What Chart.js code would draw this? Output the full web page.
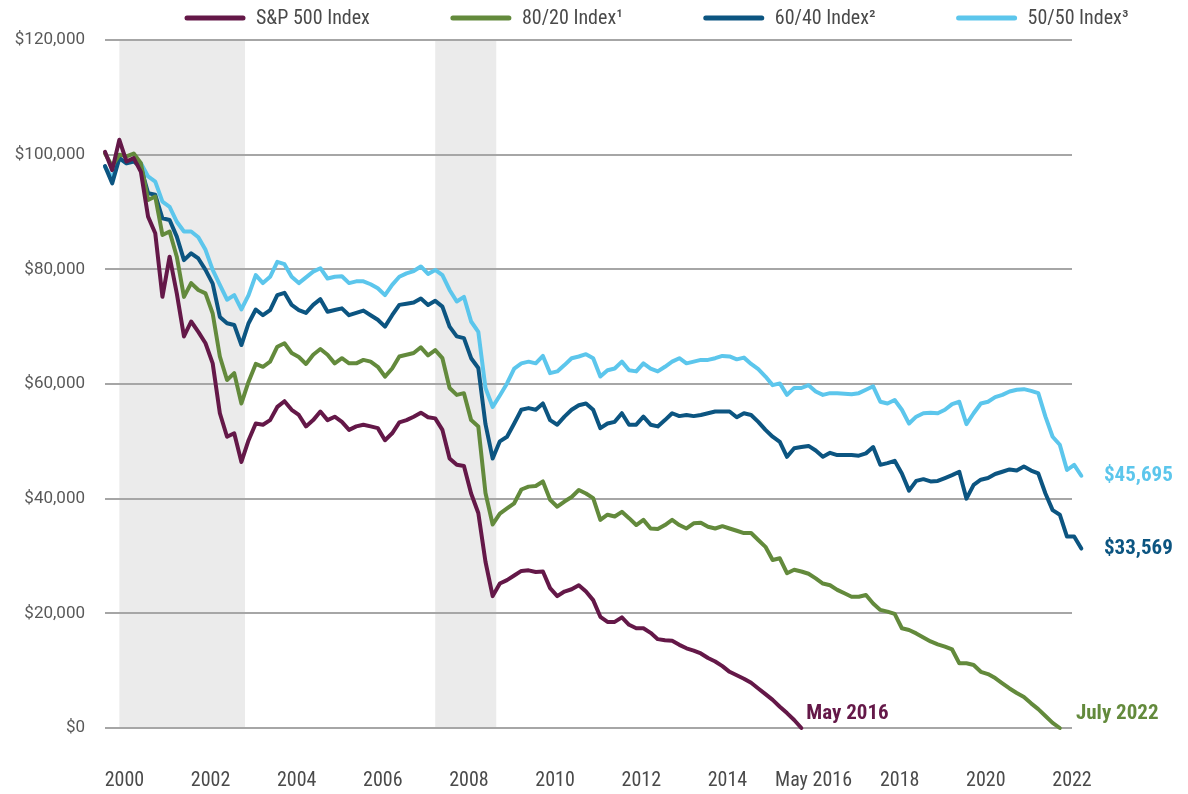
<!DOCTYPE html>
<html><head><meta charset="utf-8">
<script src="https://cdn.jsdelivr.net/npm/chart.js@4.4.1/dist/chart.umd.min.js"></script>
<style>html,body{margin:0;padding:0;background:#fff;}canvas{display:block;}</style>
</head><body>
<canvas id="c" width="1188" height="794"></canvas>
<script>
// Bi-monthly observation dates
const dates = [
"2000-01","2000-03","2000-05","2000-07","2000-09","2000-11",
"2001-01","2001-03","2001-05","2001-07","2001-09","2001-11",
"2002-01","2002-03","2002-05","2002-07","2002-09","2002-11",
"2003-01","2003-03","2003-05","2003-07","2003-09","2003-11",
"2004-01","2004-03","2004-05","2004-07","2004-09","2004-11",
"2005-01","2005-03","2005-05","2005-07","2005-09","2005-11",
"2006-01","2006-03","2006-05","2006-07","2006-09","2006-11",
"2007-01","2007-03","2007-05","2007-07","2007-09","2007-11",
"2008-01","2008-03","2008-05","2008-07","2008-09","2008-11",
"2009-01","2009-03","2009-05","2009-07","2009-09","2009-11",
"2010-01","2010-03","2010-05","2010-07","2010-09","2010-11",
"2011-01","2011-03","2011-05","2011-07","2011-09","2011-11",
"2012-01","2012-03","2012-05","2012-07","2012-09","2012-11",
"2013-01","2013-03","2013-05","2013-07","2013-09","2013-11",
"2014-01","2014-03","2014-05","2014-07","2014-09","2014-11",
"2015-01","2015-03","2015-05","2015-07","2015-09","2015-11",
"2016-01","2016-03","2016-05","2016-07","2016-09","2016-11",
"2017-01","2017-03","2017-05","2017-07","2017-09","2017-11",
"2018-01","2018-03","2018-05","2018-07","2018-09","2018-11",
"2019-01","2019-03","2019-05","2019-07","2019-09","2019-11",
"2020-01","2020-03","2020-05","2020-07","2020-09","2020-11",
"2021-01","2021-03","2021-05","2021-07","2021-09","2021-11",
"2022-01","2022-03","2022-05","2022-07","2022-09"
];

// Portfolio values, thousands of dollars
const sp500 = [
100.5, 97.3, 102.6, 98.8, 99.4, 97.0,
89.2, 86.3, 75.2, 82.2, 75.8, 68.3,
70.9, 69.1, 67.1, 63.6, 54.9, 50.8,
51.4, 46.4, 50.2, 53.1, 52.9, 53.7,
56.0, 57.0, 55.5, 54.6, 52.6, 53.7,
55.2, 53.7, 54.3, 53.4, 52.0, 52.6,
52.9, 52.6, 52.3, 50.2, 51.4, 53.3,
53.7, 54.3, 55.0, 54.2, 54.0, 52.0,
47.0, 45.9, 45.7, 40.9, 37.5, 29.0,
23.0, 25.2, 25.8, 26.6, 27.4, 27.5,
27.2, 27.3, 24.4, 23.0, 23.8, 24.2,
24.9, 23.8, 22.3, 19.4, 18.5, 18.5,
19.3, 18.0, 17.4, 17.4, 16.6, 15.5,
15.3, 15.2, 14.5, 13.9, 13.5, 13.0,
12.2, 11.6, 10.8, 9.8, 9.2, 8.6,
7.9, 6.9, 5.9, 4.9, 3.7, 2.6,
1.4, 0
];
const idx8020 = [
100.2, 98.0, 100.0, 99.7, 100.2, 98.5,
92.1, 92.7, 86.0, 86.6, 82.2, 75.2,
77.6, 76.4, 75.8, 72.3, 64.8, 60.7,
61.9, 56.6, 60.4, 63.5, 63.0, 63.9,
66.5, 67.1, 65.4, 64.7, 63.5, 65.1,
66.1, 65.1, 63.6, 64.5, 63.6, 63.6,
64.2, 63.9, 63.0, 61.3, 62.7, 64.8,
65.1, 65.4, 66.4, 65.0, 65.9, 64.5,
59.3, 58.1, 58.4, 53.7, 52.6, 41.0,
35.5, 37.4, 38.3, 39.2, 41.6, 42.1,
42.2, 43.0, 39.8, 38.6, 39.5, 40.3,
41.5, 40.9, 40.1, 36.3, 37.2, 36.9,
37.7, 36.6, 35.4, 36.3, 34.8, 34.7,
35.4, 36.3, 35.4, 34.8, 35.7, 35.8,
35.1, 34.8, 35.2, 34.8, 34.4, 34.0,
34.0, 32.8, 31.6, 29.3, 29.6, 27.0,
27.6, 27.3, 26.9, 26.1, 25.2, 24.9,
24.1, 23.5, 22.9, 22.9, 23.2, 21.7,
20.6, 20.3, 19.9, 17.4, 17.1, 16.5,
15.8, 15.1, 14.6, 14.2, 13.7, 11.3,
11.3, 11.0, 9.8, 9.4, 8.7, 7.8,
6.9, 6.1, 5.4, 4.3, 3.3, 2.1,
0.9, 0
];
const idx6040 = [
98.0, 95.0, 99.4, 98.5, 98.8, 97.8,
93.3, 93.0, 88.9, 88.6, 85.7, 81.6,
82.8, 81.9, 79.9, 77.5, 71.7, 70.6,
70.3, 66.8, 70.6, 73.0, 72.0, 72.9,
75.5, 75.9, 73.8, 72.9, 72.4, 73.8,
74.8, 72.6, 72.9, 73.2, 72.0, 72.4,
72.8, 72.0, 71.2, 70.0, 72.0, 73.8,
74.0, 74.2, 74.9, 73.8, 74.5, 73.5,
70.0, 68.3, 68.0, 64.5, 62.8, 53.0,
47.0, 50.0, 50.8, 53.1, 55.5, 55.8,
55.5, 56.6, 53.7, 52.9, 54.3, 55.5,
56.3, 56.6, 55.5, 52.3, 53.1, 53.4,
54.9, 52.9, 52.9, 54.3, 52.9, 52.6,
53.7, 54.9, 54.4, 54.6, 54.4, 54.6,
54.9, 55.2, 55.2, 55.2, 54.2, 54.9,
54.6, 53.4, 52.0, 50.8, 49.9, 47.3,
48.8, 49.0, 49.2, 48.4, 47.3, 48.0,
47.6, 47.6, 47.6, 47.5, 47.9, 49.0,
45.9, 46.2, 46.6, 44.4, 41.4, 43.1,
43.4, 43.0, 43.1, 43.6, 44.1, 44.7,
40.0, 42.4, 43.3, 43.6, 44.3, 44.7,
45.1, 44.9, 45.6, 44.9, 44.4, 40.9,
38.0, 37.2, 33.4, 33.4, 31.3
];
const idx5050 = [
97.9, 95.9, 99.4, 98.5, 99.1, 98.5,
96.2, 95.3, 91.8, 90.9, 88.3, 86.6,
86.6, 85.6, 83.4, 79.9, 77.3, 74.7,
75.5, 73.0, 75.5, 79.0, 77.6, 78.7,
81.3, 80.9, 78.7, 77.6, 78.6, 79.6,
80.2, 78.4, 78.7, 78.8, 77.6, 77.9,
77.9, 77.4, 76.7, 75.5, 77.3, 78.7,
79.3, 79.7, 80.5, 79.2, 79.9, 79.0,
76.4, 74.4, 75.2, 70.9, 69.1, 59.3,
56.0, 58.0, 60.1, 62.7, 63.6, 63.9,
63.6, 64.9, 61.9, 62.2, 63.3, 64.5,
64.8, 65.2, 64.5, 61.3, 62.4, 62.7,
63.9, 62.4, 62.2, 63.6, 62.7, 62.2,
63.0, 63.9, 64.5, 63.6, 63.9, 64.2,
64.2, 64.5, 64.9, 64.8, 64.3, 64.6,
63.5, 62.6, 61.3, 59.8, 60.1, 58.1,
59.3, 59.3, 59.8, 58.7, 58.1, 58.4,
58.4, 58.3, 58.2, 58.4, 59.0, 59.6,
56.9, 56.6, 57.2, 55.5, 53.1, 54.3,
54.9, 55.0, 54.9, 55.5, 56.5, 56.9,
53.0, 54.9, 56.6, 56.9, 57.7, 58.1,
58.7, 59.0, 59.1, 58.8, 58.4, 54.3,
50.8, 49.4, 45.0, 45.9, 44.0
];

const seriesLabels = ["S&P 500 Index", "80/20 Index\u00B9", "60/40 Index\u00B2", "50/50 Index\u00B3"];
const seriesColors = ["#641848", "#638a3c", "#0c5581", "#5cc6ec"];
const endLabels = ["May 2016", "July 2022", "$33,569", "$45,695"];
const xTickYears = [2000, 2002, 2004, 2006, 2008, 2010, 2012, 2014, 2016, 2018, 2020, 2022];
const xTickLabels = ["2000", "2002", "2004", "2006", "2008", "2010", "2012", "2014", "May 2016", "2018", "2020", "2022"];
const yTicks = [0, 20000, 40000, 60000, 80000, 100000, 120000];
const shadedPeriods = [["2000-05", "2003-04"], ["2007-09", "2009-02"]];

const NARROW = "'Liberation Sans Narrow', 'Roboto Condensed', 'DejaVu Sans Condensed', Roboto, sans-serif";
const toX = s => { const p = s.split("-").map(Number); return p[0] + (p[1] - 1) / 12; };
const xAxisMax = 2022.45;
const tickShift = 0.45;

const seriesValues = [sp500, idx8020, idx6040, idx5050];
const datasets = seriesValues.map((vals, i) => ({
  label: seriesLabels[i],
  data: vals.map((v, j) => ({ x: toX(dates[j]), y: v * 1000 })),
  borderColor: seriesColors[i],
  backgroundColor: seriesColors[i],
  borderWidth: 4,
  pointRadius: 0,
  tension: 0,
  clip: false,
  borderJoinStyle: "round",
  borderCapStyle: "round"
}));

const shadePlugin = {
  id: "shade",
  beforeDraw(chart) {
    const { ctx, chartArea } = chart;
    const xs = chart.scales.x;
    ctx.save();
    ctx.fillStyle = "#ebebeb";
    shadedPeriods.forEach(([a, b]) => {
      const x0 = xs.getPixelForValue(toX(a));
      const x1 = xs.getPixelForValue(toX(b));
      ctx.fillRect(x0, chartArea.top, x1 - x0, chartArea.bottom - chartArea.top);
    });
    ctx.restore();
  }
};

const legendPlugin = {
  id: "topLegend",
  afterDraw(chart) {
    const ctx = chart.ctx;
    ctx.save();
    ctx.font = "20px " + NARROW;
    ctx.textBaseline = "middle";
    let x = 185;
    const y = 18;
    chart.data.datasets.forEach(ds => {
      ctx.strokeStyle = ds.borderColor;
      ctx.lineWidth = 5;
      ctx.lineCap = "round";
      ctx.beginPath();
      ctx.moveTo(x + 2, y);
      ctx.lineTo(x + 58, y);
      ctx.stroke();
      ctx.fillStyle = "#4a4a4a";
      ctx.fillText(ds.label, x + 71, y + 1);
      x += 71 + ctx.measureText(ds.label).width + 81;
    });
    ctx.restore();
  }
};

const endLabelPlugin = {
  id: "endLabels",
  afterDatasetsDraw(chart) {
    const ctx = chart.ctx;
    const area = chart.chartArea;
    const ys = chart.scales.y;
    ctx.save();
    ctx.font = "bold 21px " + NARROW;
    ctx.textBaseline = "middle";
    ctx.textAlign = "left";
    chart.data.datasets.forEach((ds, i) => {
      const meta = chart.getDatasetMeta(i);
      const last = meta.data[meta.data.length - 1];
      const lastVal = seriesValues[i][seriesValues[i].length - 1];
      ctx.fillStyle = ds.borderColor;
      if (lastVal === 0) {
        const lx = i === 0 ? last.x + 5 : area.right + 4;
        ctx.fillText(endLabels[i], lx, ys.getPixelForValue(0) - 14);
      } else {
        ctx.fillText(endLabels[i], area.right + 32, last.y);
      }
    });
    ctx.restore();
  }
};

new Chart(document.getElementById("c"), {
  type: "line",
  data: { datasets },
  options: {
    responsive: false,
    animation: false,
    devicePixelRatio: 1,
    layout: { padding: { top: 40, right: 116, bottom: 0, left: 0 } },
    plugins: { legend: { display: false }, tooltip: { enabled: false } },
    scales: {
      x: {
        type: "linear",
        bounds: "data",
        afterDataLimits(s) { s.min = toX(dates[0]); s.max = xAxisMax; },
        afterBuildTicks(s) { s.ticks = xTickYears.map(y => ({ value: y + tickShift })); },
        afterFit(s) { s.height = 66; },
        grid: { display: false, drawTicks: false },
        border: { display: false },
        ticks: {
          autoSkip: false, maxRotation: 0, padding: 41,
          color: "#4a4a4a", font: { family: NARROW, size: 20 },
          callback: (v, i) => xTickLabels[i]
        }
      },
      y: {
        min: 0, max: 120000,
        afterBuildTicks(s) { s.ticks = yTicks.map(v => ({ value: v })); },
        afterFit(s) { s.width = 105; },
        grid: { color: "#a6a6a6", lineWidth: 2, drawTicks: false },
        border: { display: false },
        ticks: {
          padding: 20, color: "#595959", font: { family: "Roboto", size: 17 },
          callback: v => "$" + Number(v).toLocaleString("en-US")
        }
      }
    }
  },
  plugins: [shadePlugin, legendPlugin, endLabelPlugin]
});
</script>
</body></html>
